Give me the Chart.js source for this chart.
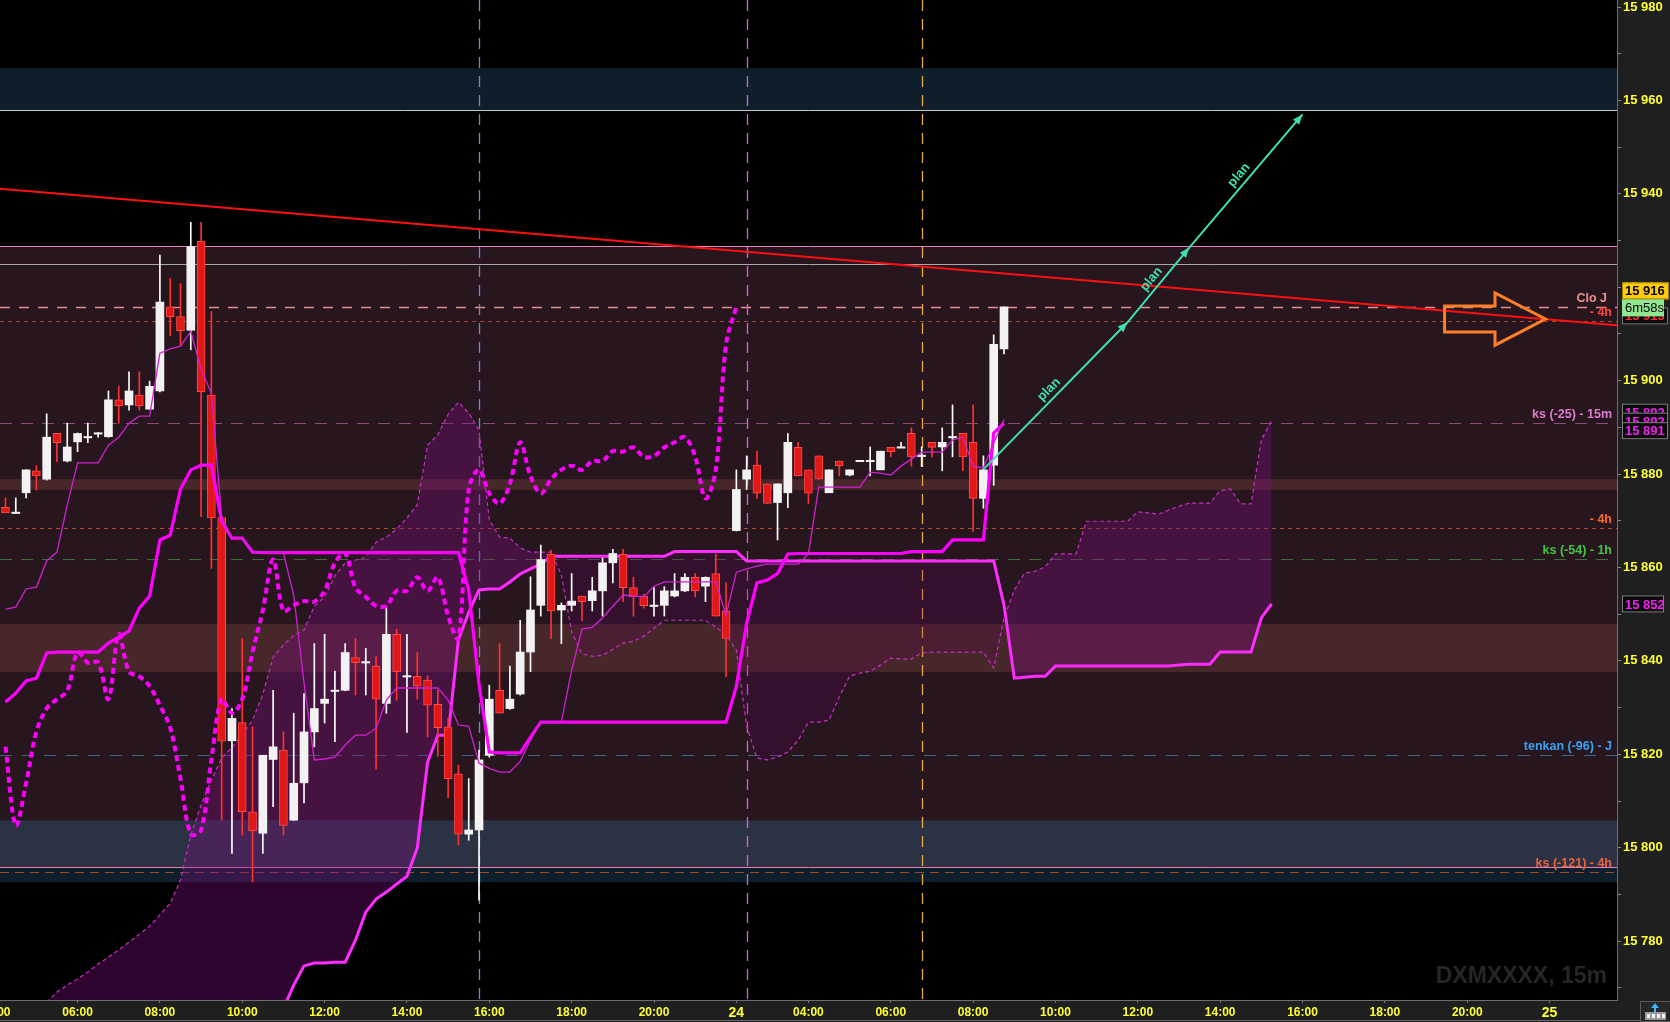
<!DOCTYPE html>
<html>
<head>
<meta charset="utf-8">
<script src="https://cdn.jsdelivr.net/npm/chart.js@4.4.1/dist/chart.umd.min.js"></script>
<style>
  html, body { margin: 0; padding: 0; background: #1f1f1f; }
  #wrap { width: 1670px; height: 1022px; position: relative; }
</style>
</head>
<body>
<div id="wrap"><canvas id="chart"></canvas></div>
<script>
// one step on the x axis = one 15 minute bar, bar 1 = 04:15 on the 23rd
const firstBar = 1;

const opens = [15872.9, 15871.7, 15876.0, 15880.7, 15878.9, 15888.7, 15882.8, 15886.9, 15887.9, 15888.7,
  15888.0, 15895.9, 15894.8, 15896.9, 15893.9, 15897.8, 15915.8, 15913.7, 15910.8, 15929.9,
  15896.9, 15870.7, 15822.9, 15826.8, 15807.7, 15803.1, 15818.9, 15820.9, 15805.9, 15813.9,
  15824.8, 15830.9, 15833.6, 15833.7, 15840.7, 15839.7, 15838.9, 15830.9, 15845.7, 15836.7,
  15836.7, 15835.9, 15830.7, 15825.9, 15815.8, 15802.9, 15803.8, 15819.8, 15833.7, 15829.8,
  15832.9, 15841.9, 15851.9, 15862.8, 15850.9, 15851.9, 15853.9, 15852.9, 15855.0, 15861.0,
  15862.8, 15855.7, 15853.9, 15851.8, 15851.9, 15853.9, 15855.0, 15857.9, 15856.0, 15858.7,
  15850.7, 15867.9, 15878.9, 15881.9, 15877.9, 15873.9, 15876.0, 15885.7, 15880.9, 15883.9,
  15876.0, 15882.8, 15879.8, 15882.8, 15882.8, 15880.9, 15885.7, 15885.7, 15888.7, 15883.9,
  15886.8, 15885.8, 15887.9, 15888.7, 15886.8, 15874.8, 15881.9, 15906.8];
const highs = [15874.9, 15874.9, 15880.9, 15881.8, 15892.9, 15888.7, 15890.9, 15888.8, 15890.9, 15888.9,
  15897.8, 15898.8, 15901.9, 15901.9, 15899.9, 15926.9, 15921.9, 15920.8, 15933.9, 15933.9,
  15914.8, 15870.8, 15829.8, 15844.8, 15825.9, 15819.8, 15833.7, 15824.8, 15828.8, 15833.0,
  15843.7, 15845.7, 15837.8, 15843.7, 15844.8, 15842.7, 15840.9, 15851.6, 15846.8, 15845.7,
  15841.8, 15836.8, 15833.7, 15827.7, 15817.7, 15814.8, 15820.9, 15834.8, 15843.7, 15838.9,
  15848.7, 15858.0, 15864.8, 15863.7, 15852.4, 15858.7, 15853.9, 15857.9, 15862.0, 15863.9,
  15863.9, 15857.9, 15854.3, 15855.7, 15855.9, 15858.7, 15858.7, 15858.7, 15858.0, 15862.9,
  15856.7, 15880.9, 15883.9, 15884.9, 15877.9, 15877.9, 15888.7, 15886.8, 15880.9, 15883.9,
  15880.9, 15882.8, 15880.9, 15882.8, 15885.8, 15884.9, 15885.7, 15886.8, 15889.9, 15885.8,
  15886.8, 15889.9, 15894.8, 15888.7, 15894.8, 15883.9, 15909.8, 15915.8];
const lows = [15871.7, 15871.7, 15874.9, 15876.6, 15878.7, 15882.6, 15882.6, 15884.8, 15886.7, 15887.9,
  15887.9, 15890.9, 15893.7, 15893.7, 15893.9, 15897.6, 15909.6, 15907.6, 15906.6, 15870.9,
  15859.8, 15805.9, 15798.8, 15802.7, 15792.7, 15798.8, 15808.8, 15802.7, 15805.8, 15809.6,
  15821.6, 15826.7, 15822.7, 15833.6, 15832.7, 15832.7, 15816.8, 15828.8, 15831.6, 15824.7,
  15831.8, 15823.7, 15819.6, 15810.7, 15800.6, 15801.6, 15788.8, 15819.4, 15828.8, 15829.6,
  15832.7, 15837.7, 15849.6, 15844.8, 15843.7, 15850.7, 15848.6, 15850.7, 15849.6, 15856.7,
  15852.7, 15849.6, 15851.3, 15849.6, 15849.6, 15853.7, 15854.8, 15853.7, 15852.7, 15849.6,
  15836.6, 15867.8, 15876.7, 15874.8, 15873.7, 15865.9, 15872.8, 15879.6, 15873.7, 15878.9,
  15876.0, 15879.6, 15879.6, 15882.8, 15879.6, 15880.9, 15883.7, 15885.7, 15881.7, 15881.6,
  15883.7, 15880.7, 15883.7, 15880.7, 15867.7, 15872.7, 15877.6, 15905.7];
const closes = [15871.7, 15871.7, 15880.9, 15879.6, 15887.9, 15886.7, 15885.8, 15888.7, 15887.9, 15888.7,
  15895.9, 15894.6, 15897.8, 15894.6, 15898.8, 15916.8, 15913.7, 15910.7, 15928.7, 15897.6,
  15870.6, 15822.8, 15827.7, 15807.7, 15803.6, 15819.8, 15821.6, 15804.8, 15813.8, 15824.8,
  15829.8, 15831.8, 15833.6, 15841.8, 15839.6, 15839.7, 15831.8, 15845.7, 15837.7, 15836.7,
  15834.6, 15830.5, 15825.7, 15814.8, 15802.9, 15803.8, 15818.8, 15831.8, 15828.8, 15831.8,
  15841.9, 15850.9, 15861.7, 15850.7, 15851.9, 15852.8, 15852.7, 15855.0, 15861.0, 15863.0,
  15855.7, 15853.7, 15851.8, 15851.8, 15855.0, 15855.0, 15857.9, 15855.0, 15857.9, 15849.6,
  15844.8, 15876.7, 15880.9, 15875.9, 15873.7, 15877.9, 15886.8, 15879.6, 15875.9, 15878.9,
  15880.9, 15881.8, 15880.9, 15882.8, 15882.8, 15884.9, 15884.8, 15885.7, 15883.7, 15883.9,
  15885.7, 15886.8, 15887.9, 15883.7, 15874.8, 15880.9, 15907.8, 15915.8];

// ichimoku lines, same bars as the candles
const tenkan = [15851.1, 15851.5, 15855.4, 15855.8, 15861.4, 15863.3, 15873.4, 15882.4, 15882.4, 15882.4,
  15886.2, 15887.9, 15890.9, 15892.4, 15892.4, 15905.9, 15906.8, 15907.4, 15910.6, 15902.4,
  15897.3, 15870.6, 15866.3, 15866.3, 15863.3, 15863.3, 15863.3, 15863.1, 15854.1, 15835.3,
  15818.8, 15819.0, 15819.4, 15822.0, 15824.1, 15824.1, 15825.6, 15831.6, 15834.2, 15834.2,
  15834.2, 15834.2, 15834.2, 15831.6, 15826.3, 15826.0, 15818.1, 15817.0, 15816.2, 15816.2,
  15818.5, 15823.0, 15826.9, 15826.9, 15826.9, 15838.0, 15846.8, 15847.2, 15849.2, 15851.7,
  15854.1, 15853.9, 15853.7, 15856.0, 15856.9, 15856.9, 15856.9, 15856.9, 15856.9, 15856.9,
  15849.8, 15859.0, 15859.7, 15860.3, 15860.7, 15860.7, 15860.7, 15860.7, 15862.9, 15877.2,
  15877.2, 15877.2, 15877.2, 15877.2, 15880.4, 15880.2, 15879.8, 15881.7, 15883.2, 15884.7,
  15884.7, 15884.7, 15887.3, 15887.9, 15881.7, 15881.3, 15886.6, 15891.7];
const kijun = [15831.2, 15833.1, 15835.7, 15836.3, 15841.7, 15841.9, 15841.9, 15841.9, 15841.9, 15841.9,
  15843.8, 15845.1, 15846.4, 15851.3, 15853.9, 15865.9, 15866.9, 15876.8, 15880.9, 15881.9,
  15881.9, 15869.9, 15866.3, 15866.3, 15863.3, 15863.2, 15863.2, 15863.2, 15863.2, 15863.2,
  15863.2, 15863.2, 15863.2, 15863.2, 15863.2, 15863.2, 15863.2, 15863.2, 15863.2, 15863.2,
  15863.2, 15863.2, 15863.2, 15863.2, 15863.2, 15855.2, 15835.0, 15820.5, 15820.3, 15820.3,
  15820.3, 15823.7, 15826.9, 15826.9, 15826.9, 15826.9, 15826.9, 15826.9, 15826.9, 15826.9,
  15826.9, 15826.9, 15826.9, 15826.9, 15826.9, 15826.9, 15826.9, 15826.9, 15826.9, 15826.9,
  15826.9, 15834.6, 15848.1, 15856.7, 15857.3, 15858.7, 15862.9, 15863.0, 15863.0, 15863.0,
  15863.0, 15863.0, 15863.0, 15863.0, 15863.0, 15863.0, 15863.0, 15863.0, 15863.4, 15863.4,
  15863.4, 15863.4, 15865.9, 15865.9, 15865.9, 15865.9, 15888.8, 15890.9];

// cloud, projected 26 bars ahead: bars 5 .. 124
const senkouStart = 5;
const senkouA = [15766.9, 15769.1, 15770.6, 15771.9, 15773.4, 15775.1, 15776.6, 15778.1, 15779.8, 15781.5,
  15783.2, 15785.6, 15788.1, 15793.1, 15802.7, 15809.1, 15814.5, 15819.2, 15821.5, 15824.3,
  15827.3, 15832.9, 15840.8, 15843.4, 15845.5, 15846.6, 15851.7, 15853.7, 15858.2, 15861.0,
  15861.6, 15862.2, 15865.4, 15866.5, 15868.2, 15870.6, 15873.4, 15886.2, 15888.4, 15892.8,
  15895.4, 15893.1, 15889.4, 15870.2, 15866.5, 15866.3, 15864.2, 15863.3, 15863.3, 15863.3,
  15858.4, 15846.2, 15841.5, 15841.0, 15841.2, 15842.5, 15843.8, 15844.2, 15845.3, 15847.0,
  15848.7, 15848.7, 15848.7, 15848.7, 15848.7, 15847.2, 15845.7, 15842.3, 15826.0, 15819.2,
  15818.8, 15819.4, 15820.5, 15823.0, 15826.9, 15826.9, 15827.3, 15832.3, 15836.7, 15837.4,
  15837.8, 15839.1, 15840.6, 15840.4, 15840.4, 15841.7, 15841.9, 15841.9, 15841.9, 15841.9,
  15841.9, 15841.9, 15838.5, 15849.2, 15855.2, 15858.8, 15859.2, 15860.1, 15862.9, 15862.9,
  15862.9, 15869.9, 15869.9, 15869.9, 15869.9, 15869.9, 15871.9, 15871.7, 15871.4, 15872.3,
  15873.1, 15873.8, 15873.8, 15873.8, 15876.4, 15876.8, 15873.6, 15873.6, 15887.3, 15891.5];
const senkouB = [15755, 15755, 15755, 15755, 15755, 15755, 15755, 15755, 15755, 15755,
  15755, 15755, 15755, 15755, 15755, 15755, 15755, 15755, 15755, 15755,
  15755, 15755, 15755, 15765.6, 15770.6, 15774.7, 15775.3, 15775.3, 15775.5, 15775.5,
  15780.2, 15786.2, 15789.0, 15790.5, 15792.2, 15793.9, 15799.9, 15818.3, 15824.1, 15824.1,
  15844.5, 15850.4, 15855.2, 15855.4, 15855.4, 15856.9, 15858.6, 15859.7, 15860.7, 15862.4,
  15862.4, 15862.4, 15862.4, 15862.4, 15862.4, 15862.4, 15862.4, 15862.4, 15862.4, 15862.4,
  15862.4, 15863.4, 15863.4, 15863.4, 15863.4, 15863.4, 15863.4, 15863.4, 15861.4, 15861.4,
  15861.4, 15861.4, 15861.4, 15861.4, 15861.4, 15861.4, 15861.4, 15861.4, 15861.4, 15861.4,
  15861.4, 15861.4, 15861.4, 15861.4, 15861.4, 15861.4, 15861.4, 15861.4, 15861.4, 15861.4,
  15861.4, 15861.4, 15861.4, 15852.0, 15836.3, 15836.5, 15836.7, 15836.7, 15838.9, 15838.9,
  15838.9, 15838.9, 15838.9, 15838.9, 15838.9, 15838.9, 15838.9, 15838.9, 15838.9, 15838.9,
  15839.1, 15839.3, 15839.3, 15839.3, 15841.9, 15841.9, 15841.9, 15841.9, 15849.2, 15852.2];

// drawn tools
const trendX = [0, 158];
const trendY = [15941.2, 15911.8];
const planX = [96, 110, 116, 127];
const planY = [15881, 15912.5, 15928.5, 15957];

// time axis
const timeTicks = [0, 8, 16, 24, 32, 40, 48, 56, 64, 72, 79, 87, 95, 103, 111, 119, 127, 135, 143, 151];
const timeLabels = ['04:00', '06:00', '08:00', '10:00', '12:00', '14:00', '16:00', '18:00', '20:00', '24',
  '04:00', '06:00', '08:00', '10:00', '12:00', '14:00', '16:00', '18:00', '20:00', '25'];
const priceTicks = [15770, 15780, 15790, 15800, 15810, 15820, 15830, 15840, 15850, 15860, 15870,
  15880, 15890, 15900, 15910, 15920, 15930, 15940, 15950, 15960, 15970, 15980];

// zones and levels
const zoneTops = [15966.9, 15928.8, 15878.9, 15847.9, 15805.9, 15795.8];
const zoneBottoms = [15957.9, 15805.9, 15876.6, 15837.6, 15795.8, 15792.6];
const edgePrices = [15957.9, 15928.8, 15925.0, 15795.8];
const levelPrices = [15915.8, 15912.8, 15890.9, 15868.4, 15861.8, 15819.8, 15794.8];
const levelLabels = ['Clo J', '- 4h', 'ks (-25) - 15m', '- 4h', 'ks (-54) - 1h', 'tenkan (-96) - J', 'ks (-121) - 4h'];
const markerBars = [47, 73, 90];
const countdown = '6m58s';
const hiddenLevel = 15912.8;

// ---- styles ----
const zoneColors = ['#0e1f2b', '#28161f', '#47272a', '#47272a', '#2b3243', '#0e1f2b'];
const edgeColors = ['#c8c8c8', '#e482b8', '#a8a8a8', '#e482b8'];
const levelColors = ['#e88c8c', '#a8482c', '#8e4c7c', '#b44e2c', '#3e6e3c', '#3c6686', '#9c4a30'];
const levelTextColors = ['#f29090', '#ff4636', '#dc7ccc', '#ff6a30', '#40c840', '#3aa0f0', '#ea643e'];
const levelDash = [[10, 9], [4, 4], [12, 9], [4, 4], [12, 9], [12, 10], [9, 6]];
const levelTextPad = [10, 5, 5, 5, 5, 5, 5];
const markerColors = ['#5b8fe0', '#e25ae2', '#e8aa40'];
const FONT = '"Liberation Sans", Arial, sans-serif';
const TEAL = '#3fe0b0';

const fmt = v => Math.floor(v / 1000) + ' ' + String(Math.round(v) % 1000).padStart(3, '0');

const bars = opens.map((_, k) => firstBar + k);
const isUp = k => closes[k] >= opens[k];
const bodyData = bars.map((x, k) => {
  const o = opens[k], c = closes[k];
  return Math.abs(o - c) < 0.25 ? { x, y: [o - 0.15, o + 0.15] } : { x, y: [o, c] };
});
const wickData = bars.map((x, k) => ({ x, y: [lows[k], highs[k]] }));
const toPts = (arr, start) => arr.map((v, k) => ({ x: start + k, y: v }));
// lagging span = close moved back 26 bars
const chikou = toPts(closes.slice(26), firstBar);

const overlay = {
  id: 'overlay',
  beforeDraw(chart) {
    const { ctx, chartArea: a, width, height } = chart;
    ctx.save();
    ctx.fillStyle = '#1f1f1f';
    ctx.fillRect(0, 0, width, height);
    ctx.fillStyle = '#000';
    ctx.fillRect(a.left, a.top, a.right - a.left, a.bottom - a.top);
    ctx.restore();
  },
  beforeDatasetsDraw(chart) {
    const { ctx, chartArea: a, scales: { x, y } } = chart;
    ctx.save();
    ctx.beginPath();
    ctx.rect(a.left, a.top, a.right - a.left, a.bottom - a.top);
    ctx.clip();
    zoneTops.forEach((t, i) => {
      const y1 = y.getPixelForValue(t), y2 = y.getPixelForValue(zoneBottoms[i]);
      ctx.fillStyle = zoneColors[i];
      ctx.fillRect(a.left, y1, a.right - a.left, y2 - y1);
    });
    ctx.lineWidth = 1;
    edgePrices.forEach((p, i) => {
      const py = Math.round(y.getPixelForValue(p)) + 0.5;
      ctx.strokeStyle = edgeColors[i];
      ctx.beginPath(); ctx.moveTo(a.left, py); ctx.lineTo(a.right, py); ctx.stroke();
    });
    levelPrices.forEach((p, i) => {
      const py = Math.round(y.getPixelForValue(p)) + 0.5;
      ctx.strokeStyle = levelColors[i];
      ctx.lineWidth = i === 0 ? 1.5 : 1;
      ctx.setLineDash(levelDash[i]);
      ctx.beginPath(); ctx.moveTo(a.left, py); ctx.lineTo(a.right, py); ctx.stroke();
    });
    ctx.lineWidth = 1.3;
    ctx.setLineDash([11, 8]);
    markerBars.forEach((b, i) => {
      const px = Math.round(x.getPixelForValue(b)) + 0.5;
      ctx.strokeStyle = markerColors[i];
      ctx.beginPath(); ctx.moveTo(px, a.top); ctx.lineTo(px, a.bottom); ctx.stroke();
    });
    ctx.setLineDash([]);
    // symbol watermark
    ctx.fillStyle = '#262626';
    ctx.font = 'bold 23px ' + FONT;
    ctx.textAlign = 'right';
    ctx.textBaseline = 'middle';
    ctx.fillText('DXMXXXX, 15m', a.right - 10, a.bottom - 23);
    ctx.restore();
  },
  afterDatasetsDraw(chart) {
    const { ctx, chartArea: a, scales: { x, y } } = chart;
    ctx.save();
    ctx.beginPath();
    ctx.rect(a.left, a.top, a.right - a.left, a.bottom - a.top);
    ctx.clip();
    // plan arrow heads and captions
    ctx.fillStyle = TEAL;
    ctx.font = 'bold 13px ' + FONT;
    ctx.textAlign = 'center';
    ctx.textBaseline = 'middle';
    for (let i = 1; i < planX.length; i++) {
      const x0 = x.getPixelForValue(planX[i - 1]), y0 = y.getPixelForValue(planY[i - 1]);
      const x1 = x.getPixelForValue(planX[i]), y1 = y.getPixelForValue(planY[i]);
      const len = Math.hypot(x1 - x0, y1 - y0);
      const ux = (x1 - x0) / len, uy = (y1 - y0) / len;
      ctx.beginPath();
      ctx.moveTo(x1, y1);
      ctx.lineTo(x1 - ux * 10 - uy * 4, y1 - uy * 10 + ux * 4);
      ctx.lineTo(x1 - ux * 10 + uy * 4, y1 - uy * 10 - ux * 4);
      ctx.closePath();
      ctx.fill();
      const mx = (x0 + x1) / 2 + uy * 9, my = (y0 + y1) / 2 - ux * 9;
      ctx.save();
      ctx.translate(mx, my);
      ctx.rotate(Math.atan2(uy, ux));
      ctx.fillText('plan', 0, 0);
      ctx.restore();
    }
    // orange outline arrow
    const arrow = [[140.8, 15916.0], [145.7, 15916.0], [145.7, 15918.8], [150.6, 15913.2],
      [145.7, 15907.6], [145.7, 15910.4], [140.8, 15910.4]];
    ctx.strokeStyle = '#ff7f27';
    ctx.lineWidth = 3;
    ctx.lineJoin = 'miter';
    ctx.beginPath();
    arrow.forEach(([b, p], k) => {
      const px = x.getPixelForValue(b), py = y.getPixelForValue(p);
      if (k === 0) ctx.moveTo(px, py); else ctx.lineTo(px, py);
    });
    ctx.closePath();
    ctx.stroke();
    // level captions
    ctx.font = 'bold 12.5px ' + FONT;
    ctx.textAlign = 'right';
    levelPrices.forEach((p, i) => {
      ctx.fillStyle = levelTextColors[i];
      ctx.fillText(levelLabels[i], a.right - levelTextPad[i], y.getPixelForValue(p) - 8.5);
    });
    ctx.restore();
  },
  afterDraw(chart) {
    const { ctx, chartArea: a, scales: { y }, width, height } = chart;
    const last = closes[closes.length - 1];
    const bx = a.right + 5;
    ctx.save();
    ctx.textAlign = 'left';
    ctx.textBaseline = 'middle';
    const tag = (cy, w, bg, border, text, color, font) => {
      ctx.fillStyle = bg;
      ctx.fillRect(bx, cy - 8.5, w, 17);
      if (border) {
        ctx.strokeStyle = border; ctx.lineWidth = 1;
        ctx.strokeRect(bx + 0.5, cy - 8, w - 1, 16);
      }
      ctx.font = font || ('bold 13px ' + FONT);
      ctx.fillStyle = color;
      ctx.fillText(text, bx + 3, cy + 1);
    };
    const yl = y.getPixelForValue(last);
    tag(y.getPixelForValue(hiddenLevel) - 5, 46, '#0c0c0c', '#777', fmt(hiddenLevel), '#ff2a2a');
    tag(yl - 16, 47, '#ffcc10', '#a08000', fmt(last), '#000');
    tag(yl + 1, 42, '#8fe88f', null, countdown, '#000', '13px ' + FONT);
    const kl = y.getPixelForValue(kijun[kijun.length - 1]);
    tag(kl - 11, 46, '#0a0a0a', '#808080', fmt(tenkan[tenkan.length - 1]), '#f020f0');
    tag(kl - 2, 46, '#0a0a0a', '#808080', fmt(senkouA[senkouA.length - 1]), '#f020f0');
    tag(kl + 7.5, 46, '#0a0a0a', '#808080', fmt(kijun[kijun.length - 1]), '#f020f0');
    tag(y.getPixelForValue(senkouB[senkouB.length - 1]), 42, '#0a0a0a', '#808080',
      fmt(senkouB[senkouB.length - 1]), '#f020f0');
    // bottom line and corner button
    ctx.fillStyle = '#6a6a6a';
    ctx.fillRect(0, height - 2, width - 30, 1);
    ctx.fillStyle = '#262626';
    ctx.fillRect(width - 30, a.bottom + 1, 30, height - a.bottom - 1);
    ctx.strokeStyle = '#5a5a5a';
    ctx.strokeRect(width - 29.5, a.bottom + 1.5, 30, height - a.bottom - 2);
    ctx.fillStyle = '#9a9a9a';
    ctx.fillRect(width - 25, height - 10, 21, 8);
    ctx.fillStyle = '#f0f0f0';
    for (let k = 0; k < 4; k++) ctx.fillRect(width - 23 + k * 5, height - 8, 3, 4);
    ctx.fillStyle = '#3cb4ff';
    ctx.beginPath();
    ctx.moveTo(width - 15, height - 19); ctx.lineTo(width - 19, height - 14); ctx.lineTo(width - 11, height - 14);
    ctx.closePath(); ctx.fill();
    ctx.fillRect(width - 16, height - 14, 2, 4);
    ctx.restore();
  }
};

const lineBase = { type: 'line', pointRadius: 0, fill: false, tension: 0 };

new Chart(document.getElementById('chart'), {
  type: 'line',
  data: {
    datasets: [
      { ...lineBase, label: 'plan', data: planX.map((v, k) => ({ x: v, y: planY[k] })),
        borderColor: TEAL, borderWidth: 2, order: 0 },
      { ...lineBase, label: 'trend', data: trendX.map((v, k) => ({ x: v, y: trendY[k] })),
        borderColor: '#ff1010', borderWidth: 2, order: 1 },
      { ...lineBase, label: 'chikou', data: chikou, borderColor: '#ff00ff', borderWidth: 4,
        borderDash: [6, 4], tension: 0.35, order: 2 },
      { ...lineBase, label: 'tenkan', data: toPts(tenkan, firstBar), borderColor: '#d020d0',
        borderWidth: 1.3, order: 3 },
      { ...lineBase, label: 'kijun', data: toPts(kijun, firstBar), borderColor: '#ff00ff',
        borderWidth: 3.2, order: 4 },
      { type: 'bar', label: 'body', data: bodyData, grouped: false, barThickness: 8, order: 5,
        backgroundColor: c => isUp(c.dataIndex) ? '#f2f2f2' : '#e01818',
        borderColor: c => isUp(c.dataIndex) ? '#f2f2f2' : '#ff4a4a',
        borderWidth: c => isUp(c.dataIndex) ? 0 : 1, borderSkipped: false },
      { type: 'bar', label: 'wick', data: wickData, grouped: false, barThickness: 1, order: 6,
        backgroundColor: c => isUp(c.dataIndex) ? '#ffffff' : '#ff3030', borderWidth: 0 },
      { ...lineBase, label: 'senkou B', data: toPts(senkouB, senkouStart), borderColor: '#ff2cff',
        borderWidth: 3, order: 7 },
      { ...lineBase, label: 'senkou A', data: toPts(senkouA, senkouStart), borderColor: '#c430c4',
        borderWidth: 1.2, borderDash: [4, 3], order: 8,
        fill: { target: 7, above: 'rgba(124, 14, 127, 0.36)', below: 'rgba(90, 0, 90, 0.22)' } }
    ]
  },
  options: {
    responsive: true,
    maintainAspectRatio: false,
    devicePixelRatio: 1,
    animation: false,
    events: [],
    layout: { padding: 0 },
    plugins: { legend: { display: false }, tooltip: { enabled: false } },
    scales: {
      x: {
        type: 'linear', min: 0.466, max: 157.55, offset: false,
        grid: { drawOnChartArea: false, offset: false, color: '#777', tickLength: 3 },
        border: { color: '#6e6e6e' },
        afterBuildTicks: s => { s.ticks = timeTicks.map(v => ({ value: v })); },
        afterFit: s => { s.height = 22; s.paddingLeft = 0; s.paddingRight = 0; },
        ticks: {
          autoSkip: false, maxRotation: 0, padding: 2, color: '#ffff33',
          callback: v => timeLabels[timeTicks.indexOf(v)],
          font: c => ({ family: FONT, weight: 'bold',
            size: c.tick && (c.tick.label === '24' || c.tick.label === '25') ? 14 : 12 })
        }
      },
      y: {
        type: 'linear', position: 'right', min: 15767.4, max: 15981.5, beginAtZero: false,
        grid: { drawOnChartArea: false, color: '#888', tickLength: 4 },
        border: { color: '#6e6e6e' },
        afterBuildTicks: s => { s.ticks = priceTicks.map(v => ({ value: v })); },
        afterFit: s => { s.width = 53; s.paddingTop = 0; s.paddingBottom = 0; },
        ticks: {
          autoSkip: false, padding: 2, color: '#ffff33',
          font: { family: FONT, weight: 'bold', size: 13 },
          callback: v => (Math.round(v) % 20 === 0 ? fmt(v) : '')
        }
      }
    }
  },
  plugins: [overlay]
});
</script>
</body>
</html>
